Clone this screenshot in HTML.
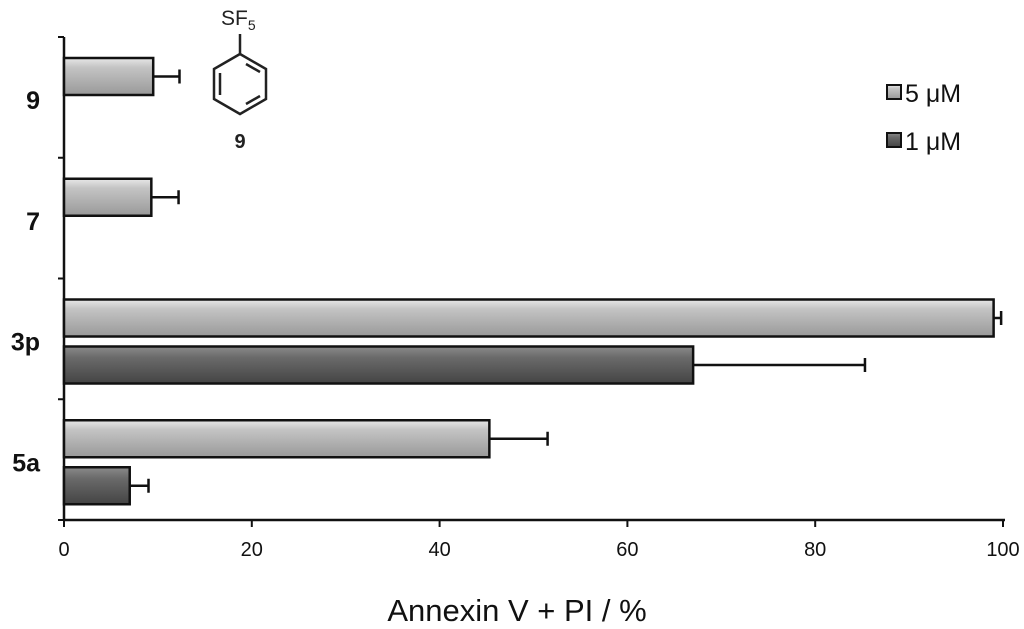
<!DOCTYPE html>
<html><head><meta charset="utf-8"><style>
body{margin:0;background:#fff;}
svg{display:block;font-family:"Liberation Sans",Arial,sans-serif;}
</style></head><body>
<svg id="chart" width="1024" height="629" viewBox="0 0 1024 629">
<defs>
<linearGradient id="gLight" x1="0" y1="0" x2="0" y2="1">
<stop offset="0" stop-color="#e8e8e8"/><stop offset="0.25" stop-color="#c4c4c4"/><stop offset="1" stop-color="#999"/></linearGradient>
<linearGradient id="gDark" x1="0" y1="0" x2="0" y2="1">
<stop offset="0" stop-color="#8a8a8a"/><stop offset="0.3" stop-color="#6a6a6a"/><stop offset="1" stop-color="#444"/></linearGradient>
</defs>
<g id="molecule">
<polygon points="240,54 266,69 266,99 240,114 214,99 214,69" fill="none" stroke="#222" stroke-width="2.5"/>
<line x1="246" y1="64" x2="260" y2="72" stroke="#222" stroke-width="2.5"/>
<line x1="260" y1="96" x2="246" y2="104" stroke="#222" stroke-width="2.5"/>
<line x1="220" y1="73" x2="220" y2="95" stroke="#222" stroke-width="2.5"/>
<line x1="240" y1="54" x2="240" y2="34" stroke="#222" stroke-width="2.5"/>
<text x="221" y="25" font-size="21" fill="#222">SF<tspan font-size="14" dy="5">5</tspan></text>
<text x="240" y="148" font-size="20" font-weight="bold" text-anchor="middle" fill="#222">9</text>
</g>
</svg>
<script>
const categories=["9","7","3p","5a"];
const seriesNames=["5 μM","1 μM"];
const values5=[9.5,9.3,99,45.3];
const err5=[2.8,2.9,0.8,6.2];
const values1=[null,null,67,7];
const err1=[null,null,18.3,2];
const xTicks=[0,20,40,60,80,100];
const NS="http://www.w3.org/2000/svg";
const svg=document.getElementById('chart');
const x0=64,x1=1003,yTop=37,yBot=520;
const xs=v=>x0+(v/100)*(x1-x0);
const band=(yBot-yTop)/categories.length;
function el(t,a,p){const e=document.createElementNS(NS,t);for(const k in a)e.setAttribute(k,a[k]);(p||svg).appendChild(e);return e;}
const ax=el('line',{x1:x0,y1:yTop,x2:x0,y2:yBot+1,stroke:'#111','stroke-width':2.5});


const bx=el('line',{x1:x0,y1:yBot,x2:x1+2,y2:yBot,stroke:'#111','stroke-width':2.5});


for(let i=0;i<=categories.length;i++){
 const y=yTop+i*band;
 const t=el('line',{x1:x0-6,y1:y,x2:x0,y2:y,stroke:'#111','stroke-width':2});
 
 
}
xTicks.forEach(v=>{
 const t=el('line',{x1:xs(v),y1:yBot,x2:xs(v),y2:yBot+7,stroke:'#111','stroke-width':2});
 
 
 const l=el('text',{x:xs(v),y:yBot+36,'font-size':20,'text-anchor':'middle',fill:'#111'});l.textContent=v;
 
 
});
const tt=el('text',{x:517,y:621,'font-size':31,'text-anchor':'middle',fill:'#111'});tt.textContent='Annexin V + PI / %';


function bar(v,e,y,fill,name){
 const r=el('rect',{x:x0,y:y,width:xs(v)-x0,height:37,fill:fill,stroke:'#111','stroke-width':2.5});
 
 
 const ex=xs(v+e),cy=y+18.5;
 const l=el('path',{d:`M${xs(v)},${cy}H${ex}M${ex},${cy-7}V${cy+7}`,stroke:'#111','stroke-width':2.5,fill:'none'});
 
 
}
categories.forEach((c,i)=>{
 const b0=yTop+i*band;
 bar(values5[i],err5[i],b0+21,'url(#gLight)','bar-'+c+'-5uM');
 if(values1[i]!==null) bar(values1[i],err1[i],b0+68,'url(#gDark)','bar-'+c+'-1uM');
 const l=el('text',{x:40,y:b0+72,'font-size':25,'font-weight':'bold','text-anchor':'end',fill:'#111'});l.textContent=c;
 
 
});
[['url(#gLight)',seriesNames[0],93],['url(#gDark)',seriesNames[1],141]].forEach((d,i)=>{
 const s=el('rect',{x:887,y:d[2]-8,width:14,height:14,fill:d[0],stroke:'#111','stroke-width':2});
 
 
 const t=el('text',{x:905,y:d[2]+9,'font-size':25,fill:'#111'});t.textContent=d[1];
 
 
});
</script>
</body></html>
